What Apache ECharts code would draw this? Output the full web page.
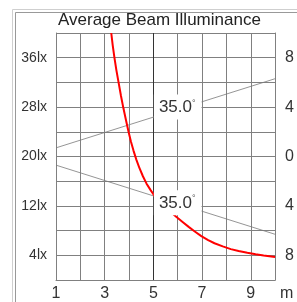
<!DOCTYPE html>
<html>
<head>
<meta charset="utf-8">
<script src="https://cdn.jsdelivr.net/npm/echarts@6/dist/echarts.min.js"></script>
<style>
html,body{margin:0;padding:0;background:#fff;}
#c{width:297px;height:302px;}
</style>
</head>
<body>
<div id="c"></div>
<script>
// ---- data ----
var titleText = 'Average Beam Illuminance';
var xTickLabels = {1:'1',3:'3',5:'5',7:'7',9:'9'};
var xUnit = 'm';
var leftTickValues = [36, 28, 20, 12, 4];
var leftTickLabels = ['36lx', '28lx', '20lx', '12lx', '4lx'];
var rightTickLabels = ['8', '4', '0', '4', '8'];
// illuminance curve (distance m, lx)
var curveX = [3.27, 3.33, 3.40, 3.48, 3.57, 3.67, 3.77, 3.88, 3.98, 4.08, 4.18, 4.30, 4.43, 4.57, 4.72, 4.88, 5.05, 5.25, 5.5, 5.75, 5.95, 6.2, 6.45, 6.7, 6.97, 7.25, 7.51, 7.85, 8.18, 8.5, 8.86, 9.2, 9.53, 10.0];
var curveY = [40.0, 38.0, 36.0, 34.0, 32.0, 29.8, 27.8, 25.8, 24.0, 22.4, 21.0, 19.5, 18.1, 16.8, 15.6, 14.6, 13.6, 12.7, 11.7, 10.9, 10.2, 9.4, 8.6, 7.85, 7.1, 6.45, 5.95, 5.45, 5.0, 4.7, 4.4, 4.18, 3.98, 3.72];
// beam edge lines (distance m, lx-scale position)
var beamUpper = [[1, 21.4], [10, 32.6]];
var beamLower = [[1, 18.6], [10, 7.4]];
// beam angle labels
var beamLabelPos = [[6, 28], [6, 12.5]];
var beamAngle = '35.0';

var curve = curveX.map(function (x, i) { return [x, curveY[i]]; });

var chart = echarts.init(document.getElementById('c'), null, {renderer: 'canvas'});
var FONT = 'Liberation Sans, Arial, sans-serif';
var gridColor = '#808080';
var vColors = [];
for (var i = 1; i <= 10; i++) vColors.push(i === 5 ? '#333' : gridColor);

chart.setOption({
  animation: false,
  backgroundColor: '#fff',
  title: {
    text: titleText,
    left: 58, top: 12, padding: 0,
    textStyle: {fontFamily: FONT, fontSize: 17, fontWeight: 'normal', color: '#222'}
  },
  graphic: [
    {type: 'rect', left: 10, top: 7, shape: {width: 300, height: 300}, style: {fill: 'none', stroke: '#cfcfcf', lineWidth: 1}, z: 0, silent: true},
    {type: 'rect', left: 13, top: 10, shape: {width: 300, height: 300}, style: {fill: 'none', stroke: '#999', lineWidth: 1}, z: 0, silent: true}
  ],
  grid: {left: 56, right: 19, top: 33, bottom: 22, containLabel: false},
  xAxis: {
    type: 'value', min: 1, max: 10, interval: 1,
    name: xUnit, nameLocation: 'end', nameGap: 5,
    nameTextStyle: {fontFamily: FONT, fontSize: 16, color: '#333', verticalAlign: 'top', padding: [6, 0, 0, 0]},
    axisLine: {show: true, lineStyle: {color: gridColor}},
    axisTick: {show: false},
    axisLabel: {
      margin: 6, fontFamily: FONT, fontSize: 16, color: '#333',
      formatter: function (v) { return xTickLabels[v] || ''; }
    },
    splitLine: {show: true, lineStyle: {color: vColors, width: 1}}
  },
  yAxis: [{
    type: 'value', min: 0, max: 40, interval: 4, position: 'left',
    axisLine: {show: true, lineStyle: {color: gridColor}},
    axisTick: {show: false},
    axisLabel: {
      margin: 9, fontFamily: FONT, fontSize: 14, color: '#333',
      formatter: function (v) { var k = leftTickValues.indexOf(v); return k >= 0 ? leftTickLabels[k] : ''; }
    },
    splitLine: {show: true, lineStyle: {color: gridColor, width: 1}}
  }, {
    type: 'value', min: 0, max: 40, interval: 4, position: 'right',
    axisLine: {show: true, lineStyle: {color: gridColor}},
    axisTick: {show: false},
    axisLabel: {
      margin: 10, fontFamily: FONT, fontSize: 16, color: '#333',
      formatter: function (v) { var k = leftTickValues.indexOf(v); return k >= 0 ? rightTickLabels[k] : ''; }
    },
    splitLine: {show: false}
  }],
  series: [
    {
      type: 'line', data: beamUpper, symbol: 'none', silent: true, z: 3,
      lineStyle: {color: '#7a7a7a', width: 0.8}
    },
    {
      type: 'line', data: beamLower, symbol: 'none', silent: true, z: 3,
      lineStyle: {color: '#7a7a7a', width: 0.8}
    },
    {
      type: 'line', data: curve, symbol: 'none', smooth: false, silent: true, z: 4,
      lineStyle: {color: '#ff0000', width: 2}
    },
    {
      type: 'custom', data: beamLabelPos, silent: true, z: 10,
      renderItem: function (params, api) {
        var p = api.coord([api.value(0), api.value(1)]);
        return {
          type: 'text', x: p[0], y: p[1], z2: 100,
          style: {
            text: '{a|' + beamAngle + '}{b|°}',
            align: 'center', verticalAlign: 'middle',
            backgroundColor: '#fff', padding: [4, 6, 4, 5],
            rich: {
              a: {fontFamily: FONT, fontSize: 17, fill: '#333', lineHeight: 17},
              b: {fontFamily: FONT, fontSize: 9, fill: '#555', verticalAlign: 'top', lineHeight: 9}
            }
          }
        };
      }
    }
  ]
});
</script>
</body>
</html>
